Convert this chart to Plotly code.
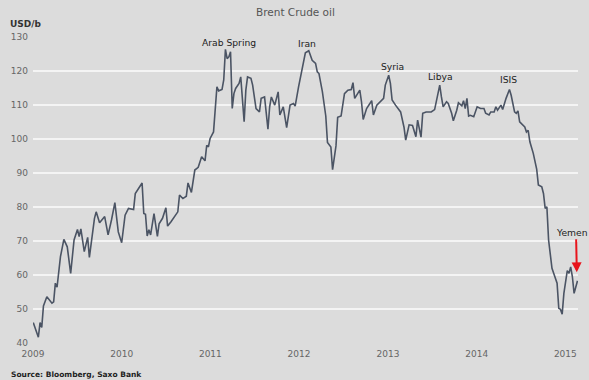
import pandas as pd
import plotly.graph_objects as go

# Weekly Brent crude (USD/b): week index since 2009-01-02 and price
weeks = [0, 3, 4, 5, 6, 8, 11, 12, 13, 14, 16, 18, 20, 22, 24, 26, 27, 28, 30, 32, 33, 36, 37, 39,
         42, 44, 46, 48, 50, 52, 54, 56, 59, 60, 64, 65, 66, 67, 68, 69, 71, 73, 74, 76, 78, 79,
         81, 83, 85, 86, 88, 90, 91, 93, 95, 97, 98, 99, 101, 102, 103, 104, 106, 107, 108, 109,
         111, 112, 113, 114, 115, 116, 117, 118, 119, 121, 122, 124, 125, 126, 128, 129, 131, 133,
         134, 136, 138, 139, 140, 142, 144, 145, 147, 149, 151, 153, 154, 156, 158, 160, 162, 164,
         166, 167, 168, 170, 172, 173, 175, 176, 178, 179, 181, 183, 185, 187, 188, 189, 192, 193,
         194, 196, 199, 200, 202, 204, 206, 207, 209, 210, 211, 213, 215, 216, 218, 219, 221, 223,
         225, 226, 228, 229, 231, 234, 236, 237, 239, 240, 241, 243, 244, 246, 247, 249, 250, 252,
         253, 254, 255, 256, 257, 259, 260, 261, 263, 265, 266, 268, 269, 271, 272, 273, 275, 276,
         278, 280, 281, 283, 284, 285, 286, 287, 289, 290, 291, 292, 293, 294, 296, 297, 299, 300,
         301, 302, 303, 304, 305, 306, 308, 309, 310, 311, 312, 314, 315, 316, 317, 318, 320]
prices = [46.0, 41.7, 46.0, 44.6, 50.9, 53.6, 51.7, 52.1, 57.6, 56.4, 65.4, 70.5, 68.3, 60.5, 70.3, 73.4, 71.3, 73.6, 66.9, 71.1, 65.2, 76.7, 78.6, 75.4,
          77.2, 71.8, 76.2, 81.3, 72.7, 69.5, 77.6, 79.6, 79.3, 84.0, 87.1, 78.1, 77.9, 71.5, 73.3, 71.8, 78.1, 71.4, 75.1, 76.7, 79.8, 74.4,
          75.7, 77.0, 78.6, 83.5, 82.5, 83.2, 87.1, 84.3, 90.9, 91.7, 93.3, 94.8, 93.6, 98.2, 97.7, 100.2, 102.1, 108.5, 115.4, 114.2,
          114.6, 117.4, 126.4, 123.7, 124.2, 125.7, 109.0, 113.4, 114.9, 116.4, 118.3, 105.1, 114.4, 118.3, 117.9, 115.9, 109.0, 108.0,
          112.0, 112.4, 102.9, 109.5, 112.4, 110.0, 113.9, 107.1, 109.5, 103.4, 110.0, 110.5, 109.7, 115.4, 120.3, 125.4, 126.0, 123.2,
          122.3, 119.8, 119.3, 114.0, 106.8, 99.0, 97.7, 91.0, 98.0, 106.4, 106.8, 113.4, 114.4, 114.6, 116.6, 112.0, 114.4, 111.0,
          105.8, 109.0, 111.3, 107.1, 110.0, 111.0, 112.0, 115.9, 118.8, 116.4, 111.5, 110.0, 108.5, 108.0, 103.5, 99.7, 104.2, 104.0,
          100.7, 105.6, 100.6, 107.6, 108.0, 108.0, 108.7, 110.8, 115.9, 112.4, 109.5, 111.0, 110.5, 107.6, 105.4, 108.5, 110.7, 109.8,
          111.3, 109.0, 112.0, 106.8, 107.0, 106.6, 107.8, 109.5, 109.0, 109.0, 107.6, 107.1, 108.0, 108.0, 109.5, 108.5, 110.0, 108.7,
          112.0, 114.6, 112.9, 108.0, 107.6, 108.3, 105.1, 104.6, 103.6, 102.1, 102.6, 99.2, 97.6, 95.8, 91.2, 86.5, 86.0, 84.0,
          79.6, 80.1, 70.3, 66.9, 62.0, 60.5, 57.6, 50.2, 49.9, 48.5, 54.6, 61.3, 60.5, 62.4, 59.5, 54.6, 58.3]

year_ticks = [2009, 2010, 2011, 2012, 2013, 2014, 2015]
y_ticks = [40, 50, 60, 70, 80, 90, 100, 110, 120, 130]

events = ["Arab Spring", "Iran", "Syria", "Libya", "ISIS", "Yemen"]
event_weeks = [115, 161, 211, 239.6, 279.5, 316.6]
event_levels = [128.5, 128.2, 121.5, 118.5, 117.4, 72.6]

start = pd.Timestamp("2009-01-02")


def wk(n):
    return start + pd.Timedelta(days=7 * n)


dates = [wk(w) for w in weeks]

W, H = 589, 380
ML, MR, MT, MB = 30, 11, 37, 37
PW, PH = W - ML - MR, H - MT - MB


def px(x):
    return (x - ML) / PW


def py(y):
    return (H - MB - y) / PH


BG = "#dcdcdc"
LINE = "#4b5464"
FONT = "DejaVu Sans"

fig = go.Figure()
fig.add_trace(go.Scatter(x=dates, y=prices, mode="lines",
                         line=dict(color=LINE, width=1.6), hoverinfo="skip"))

annotations = []
for name, w, lvl in zip(events, event_weeks, event_levels):
    annotations.append(dict(x=wk(w), y=lvl, xref="x", yref="y", text=name, showarrow=False,
                            font=dict(family=FONT, size=9.2, color="#222222"),
                            xanchor="center", yanchor="middle"))
# red arrow for Yemen
annotations.append(dict(x=wk(319.6), y=60.8, xref="x", yref="y",
                        ax=wk(319.2), ay=71.0, axref="x", ayref="y",
                        text="", showarrow=True, arrowhead=2, arrowsize=1.0,
                        arrowwidth=2, arrowcolor="#e8141c"))
annotations.append(dict(x=px(294), y=py(12), xref="paper", yref="paper",
                        text="Brent Crude oil", showarrow=False,
                        font=dict(family=FONT, size=10.5, color="#555555"),
                        xanchor="center", yanchor="middle"))
annotations.append(dict(x=px(5), y=py(24), xref="paper", yref="paper", showarrow=False,
                        text="<b>USD/b</b>", font=dict(family=FONT, size=9, color="#333333"),
                        xanchor="left", yanchor="middle"))
annotations.append(dict(x=px(6), y=py(374), xref="paper", yref="paper", showarrow=False,
                        text="<b>Source: Bloomberg, Saxo Bank</b>",
                        font=dict(family=FONT, size=7.5, color="#222222"),
                        xanchor="left", yanchor="middle"))

fig.update_layout(
    width=W, height=H,
    margin=dict(l=ML, r=MR, t=MT, b=MB),
    paper_bgcolor=BG, plot_bgcolor=BG,
    showlegend=False,
    annotations=annotations,
    xaxis=dict(range=[pd.Timestamp("2009-01-01"), wk(320.3)],
               tickvals=[pd.Timestamp(f"{y}-01-01") for y in year_ticks],
               ticktext=[str(y) for y in year_ticks],
               showgrid=False, zeroline=False, showline=False, ticks="",
               ticklabelstandoff=4,
               tickfont=dict(family=FONT, size=9, color="#666666")),
    yaxis=dict(range=[40, 130.05], tickvals=y_ticks,
               showgrid=True, gridcolor="#f4f4f4", gridwidth=1.6,
               zeroline=False, showline=False, ticks="",
               ticklabelstandoff=4,
               tickfont=dict(family=FONT, size=9, color="#666666")),
)

fig.write_html("out.html", config={"displayModeBar": False},
               post_script="document.body.style.margin='0';document.body.style.overflow='hidden';")
